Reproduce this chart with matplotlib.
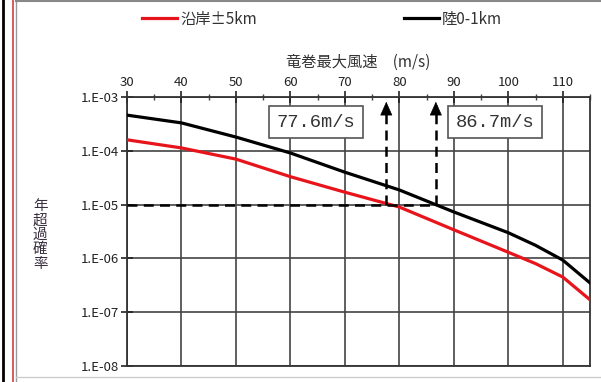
import numpy as np
import matplotlib.pyplot as plt
from matplotlib.ticker import FixedLocator, FuncFormatter, NullLocator
from matplotlib.lines import Line2D

plt.rcParams['font.family'] = ['Noto Sans CJK JP', 'DejaVu Sans']

# data
speed = [30, 40, 50, 60, 70, 80, 90, 100, 105, 110, 115]
coast = [1.6e-4, 1.13e-4, 7.0e-5, 3.3e-5, 1.7e-5, 9.0e-6, 3.4e-6, 1.3e-6, 8.0e-7, 4.5e-7, 1.7e-7]
land = [4.6e-4, 3.3e-4, 1.8e-4, 9.1e-5, 4.0e-5, 1.87e-5, 7.3e-6, 3.0e-6, 1.75e-6, 9.3e-7, 3.5e-7]
legendNames = ['沿岸±5km', '陸0-1km']
marks = [77.6, 86.7]
markLabels = ['77.6m/s', '86.7m/s']
level = 1e-5

fig = plt.figure(figsize=(6.01, 3.82), dpi=100)
ax = fig.add_axes([0.2113, 0.0419, 0.7704, 0.7042])

ax.plot(speed, coast, color='#e8141c', lw=2.3, label=legendNames[0], zorder=4)
ax.plot(speed, land, color='black', lw=2.3, label=legendNames[1], zorder=4)

ax.set_yscale('log')
ax.set_xlim(30, 115)
ax.set_ylim(1e-8, 1e-3)

# dashed guide lines + arrows
ax.plot([30, marks[1]], [level, level], color='black', lw=1.8, ls=(0, (4, 2.5)), zorder=5)
for m in marks:
    ax.plot([m, m], [level, 7.2e-4], color='black', lw=1.8, ls=(0, (4, 2.5)), zorder=5)
    ax.annotate('', xy=(m, 9.2e-4), xytext=(m, 6.4e-4),
                arrowprops=dict(arrowstyle='-|>,head_length=0.9,head_width=0.4',
                                color='black', lw=0.5), zorder=6)

# boxed labels
boxPos = [(64.7, 3.36e-4), (97.6, 3.36e-4)]
for (bx, by), txt in zip(boxPos, markLabels):
    ax.text(bx, by, txt, ha='center', va='center', fontsize=13.5,
            family='Liberation Mono', color='#333333', zorder=7,
            bbox=dict(boxstyle='square,pad=0.4', fc='white', ec='#555555', lw=1.2))

# axes style
ax.xaxis.tick_top()
ax.xaxis.set_label_position('top')
ax.xaxis.set_major_locator(FixedLocator(range(30, 116, 10)))
ax.xaxis.set_minor_locator(FixedLocator(range(35, 116, 10)))
ax.yaxis.set_major_locator(FixedLocator([1e-8, 1e-7, 1e-6, 1e-5, 1e-4, 1e-3]))
ax.yaxis.set_minor_locator(NullLocator())
ax.yaxis.set_major_formatter(FuncFormatter(lambda v, p: '1.E-%02d' % round(-np.log10(v))))
ax.tick_params(axis='x', which='major', direction='inout', length=8, width=1.2,
               labelsize=9.5, pad=2, colors='#222222')
ax.tick_params(axis='x', which='minor', direction='inout', length=4, width=1, colors='#444444')
ax.tick_params(axis='y', which='major', direction='inout', length=8, width=1.2,
               labelsize=9.5, pad=2, colors='#222222')
ax.grid(True, which='major', color='#444444', lw=1.2)
for s in ax.spines.values():
    s.set_color('#333333')
    s.set_linewidth(1.3)

ax.set_xlabel('竜巻最大風速　(m/s)', fontsize=11, color='#333333', labelpad=6)
fig.text(0.067, 0.385, '年\n超\n過\n確\n率', fontsize=10.5, color='#3a3040',
         ha='center', va='center', linespacing=1.05)

fig.legend(loc='center', bbox_to_anchor=(0.536, 0.95), ncol=2, frameon=False,
           fontsize=11, handlelength=2.3, handletextpad=0.2, columnspacing=9.6,
           labelcolor='#333333')

# page frame lines
fig.add_artist(Line2D([0.005, 0.005], [0, 1], color='black', lw=2, transform=fig.transFigure))
fig.add_artist(Line2D([0.021, 0.021], [0, 1], color='#d04040', lw=1.2, transform=fig.transFigure))
fig.add_artist(Line2D([0.027, 0.027], [0, 1], color='#999999', lw=1, transform=fig.transFigure))
fig.add_artist(Line2D([0.027, 1], [0.997, 0.997], color='#888888', lw=1.5, transform=fig.transFigure))
fig.add_artist(Line2D([0.027, 1], [0.012, 0.012], color='#cccccc', lw=1, transform=fig.transFigure))

fig.savefig('out.png', dpi=100)
